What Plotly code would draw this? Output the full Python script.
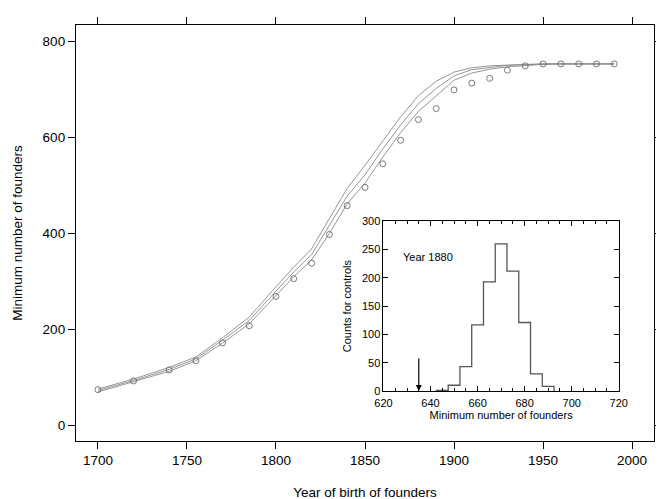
import plotly.graph_objects as go

# Main panel data
years = [1700, 1720, 1740, 1755, 1770, 1785, 1800, 1810, 1820, 1830, 1840, 1850, 1860,
         1870, 1880, 1890, 1900, 1910, 1920, 1930, 1940, 1950, 1960, 1970, 1980, 1990]
observed = [75, 93, 116, 135, 172, 208, 269, 306, 338, 398, 458, 496, 545,
            594, 637, 660, 699, 713, 723, 740, 749, 753, 753, 753, 753, 753]
upper = [76, 97, 121, 143, 183, 226, 289, 330, 368, 432, 494, 542, 593,
         643, 687, 717, 736, 745, 749, 751, 752, 753, 753, 753, 753, 753]
middle = [73, 94, 117, 139, 178, 219, 280, 320, 356, 416, 478, 522, 576,
          626, 670, 702, 728, 741, 746, 750, 751, 753, 753, 753, 753, 753]
lower = [70, 91, 113, 135, 172, 212, 271, 310, 345, 400, 462, 505, 559,
         610, 654, 687, 719, 734, 742, 747, 750, 752, 753, 753, 753, 753]

# Inset histogram (year 1880)
bin_edges = [642.5, 647.5, 652.5, 657.5, 662.5, 667.5, 672.5, 677.5, 682.5, 687.5, 692.5]
counts = [1, 10, 43, 117, 193, 260, 212, 121, 30, 8]
observed_1880 = 635

FONT = "Liberation Sans, Arial, Helvetica, sans-serif"

fig = go.Figure()

for ys in (upper, middle, lower):
    fig.add_trace(go.Scatter(x=years, y=ys, mode="lines",
                             line=dict(color="#8a8a8a", width=0.9),
                             showlegend=False, hoverinfo="skip"))

fig.add_trace(go.Scatter(x=years, y=observed, mode="markers",
                         marker=dict(symbol="circle-open", size=6,
                                     color="#6a6a6a", line=dict(width=0.9)),
                         showlegend=False))

# Histogram as step outline
hx = [bin_edges[0]]
hy = [0]
for i, c in enumerate(counts):
    hx += [bin_edges[i], bin_edges[i + 1]]
    hy += [c, c]
hx.append(bin_edges[-1])
hy.append(0)
fig.add_trace(go.Scatter(x=hx, y=hy, mode="lines", xaxis="x2", yaxis="y2",
                         line=dict(color="#555555", width=1.3),
                         showlegend=False))

axis_line = dict(showline=True, linecolor="black", linewidth=1.3,
                 showgrid=False, zeroline=False, mirror="ticks",
                 ticks="outside", ticklen=7, tickcolor="black", tickwidth=1)

fig.update_layout(
    width=664, height=499,
    margin=dict(l=67, r=9, t=12, b=57),
    paper_bgcolor="white", plot_bgcolor="white",
    font=dict(family=FONT, color="black"),
    xaxis=dict(range=[1687.7, 2012.3], tickvals=[1700, 1750, 1800, 1850, 1900, 1950, 2000],
               tickfont=dict(size=13.5),
               title=dict(text="Year of birth of founders", font=dict(size=13.5), standoff=20),
               **axis_line),
    yaxis=dict(range=[-32, 834], tickvals=[0, 200, 400, 600, 800],
               tickfont=dict(size=13.5),
               title=dict(text="Minimum number of founders", font=dict(size=13.5), standoff=16),
               **axis_line),
    xaxis2=dict(domain=[0.532, 0.939], anchor="y2", range=[620, 720],
                tickvals=[620, 640, 660, 680, 700, 720],
                showline=True, linecolor="black", linewidth=1, mirror="ticks",
                ticks="inside", ticklen=5, tickcolor="black", showgrid=False, zeroline=False,
                minor=dict(dtick=5, ticks="inside", ticklen=3, tickcolor="black"),
                tickfont=dict(size=11), ticklabelstandoff=2,
                title=dict(text="Minimum number of founders", font=dict(size=11), standoff=1)),
    yaxis2=dict(domain=[0.1204, 0.528], anchor="x2", range=[0, 300],
                tickvals=[0, 50, 100, 150, 200, 250, 300],
                showline=True, linecolor="black", linewidth=1, mirror="ticks",
                ticks="inside", ticklen=5, tickcolor="black", showgrid=False, zeroline=False,
                tickfont=dict(size=11),
                title=dict(text="Counts for controls", font=dict(size=11), standoff=8)),
    annotations=[
        dict(x=observed_1880, y=0, xref="x2", yref="y2", ax=observed_1880, ay=60,
             axref="x2", ayref="y2", showarrow=True, arrowhead=2, arrowsize=1,
             arrowwidth=1.2, arrowcolor="black", text=""),
        dict(x=627.5, y=237, xref="x2", yref="y2", text="Year 1880", showarrow=False,
             xanchor="left", yanchor="middle", font=dict(size=11)),
    ],
)

fig.write_html("out.html")
